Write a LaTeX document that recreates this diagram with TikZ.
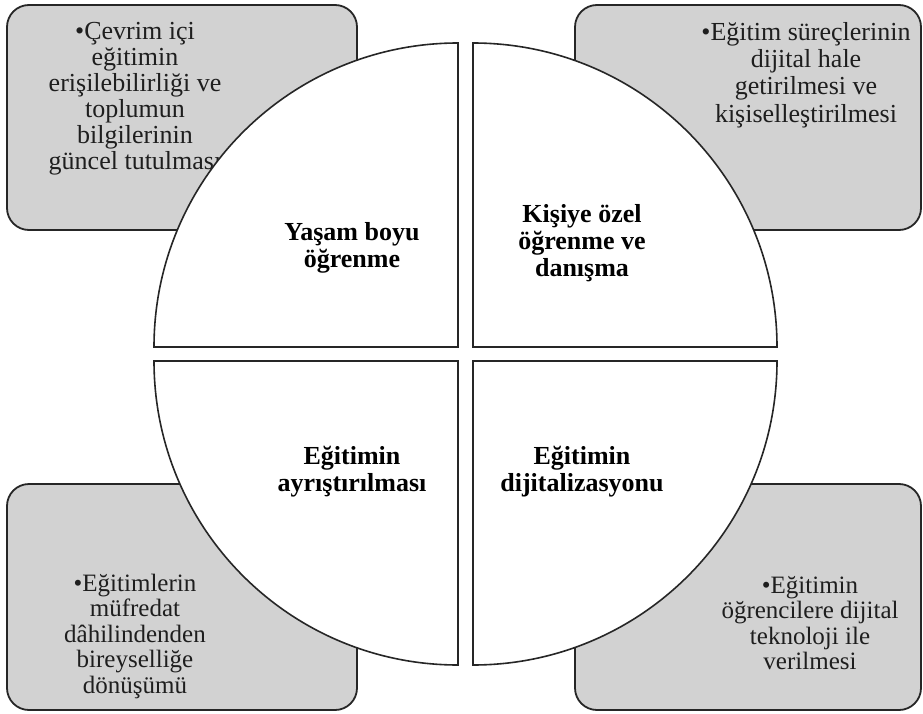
\documentclass[tikz,border=0pt]{standalone}
\usepackage{fontspec}
\setmainfont{Liberation Serif}
\definecolor{boxgray}{HTML}{D2D2D2}
\definecolor{edge}{HTML}{262626}
\definecolor{ink}{HTML}{1E1E1E}
\begin{document}
\begin{tikzpicture}[x=1pt,y=-1pt,
  outerbox/.style={draw=edge, line width=1.8pt, fill=boxgray, rounded corners=22pt, inner sep=0pt},
  boxtext/.style={align=center, text=ink, inner sep=0pt},
  quarter/.style={draw=edge, line width=1.6pt, fill=white, line join=miter},
  centerlabel/.style={align=center, text=black, font=\fontsize{26}{27}\selectfont\bfseries, inner sep=0pt}]
\useasboundingbox (0,0) rectangle (923,714);
\fill[white] (0,0) rectangle (923,714);
% outer boxes
\node[outerbox, minimum width=350pt, minimum height=225pt] (tlbox) at (182,117.5) {};
\node[outerbox, minimum width=346pt, minimum height=225pt] (trbox) at (748,117.5) {};
\node[outerbox, minimum width=350pt, minimum height=226pt] (blbox) at (182,597) {};
\node[outerbox, minimum width=346pt, minimum height=226pt] (brbox) at (748,597) {};
% box texts
\node[boxtext, font=\fontsize{26}{26}\selectfont] (tltext) at (135,99) {•Çevrim içi\\eğitimin\\erişilebilirliği ve\\toplumun\\bilgilerinin\\güncel tutulması};
\node[boxtext, font=\fontsize{26}{27.3}\selectfont] (trtext) at (806,75) {•Eğitim süreçlerinin\\dijital hale\\getirilmesi ve\\kişiselleştirilmesi};
\node[boxtext, font=\fontsize{25}{25.5}\selectfont] (bltext) at (135,636) {•Eğitimlerin\\müfredat\\dâhilindenden\\bireyselliğe\\dönüşümü};
\node[boxtext, font=\fontsize{25}{25.5}\selectfont] (brtext) at (810,623) {•Eğitimin\\öğrencilere dijital\\teknoloji ile\\verilmesi};
% quarters of the circle
\coordinate (cul) at (458,347);
\coordinate (cur) at (473,347);
\coordinate (cll) at (458,361);
\coordinate (clr) at (473,361);
\draw[quarter] (cul) -- ++(-304,0) arc[start angle=180, end angle=270, radius=304] -- cycle;
\draw[quarter] (cur) -- ++(0,-304) arc[start angle=270, end angle=360, radius=304] -- cycle;
\draw[quarter] (cll) -- ++(-304,0) arc[start angle=180, end angle=90, radius=304] -- cycle;
\draw[quarter] (clr) -- ++(304,0) arc[start angle=0, end angle=90, radius=304] -- cycle;
% labels
\node[centerlabel] (ul) at (352,248) {Yaşam boyu\\öğrenme};
\node[centerlabel] (ur) at (582,243) {Kişiye özel\\öğrenme ve\\danışma};
\node[centerlabel] (ll) at (352,472) {Eğitimin\\ayrıştırılması};
\node[centerlabel] (lr) at (582,472) {Eğitimin\\dijitalizasyonu};
\end{tikzpicture}
\end{document}
